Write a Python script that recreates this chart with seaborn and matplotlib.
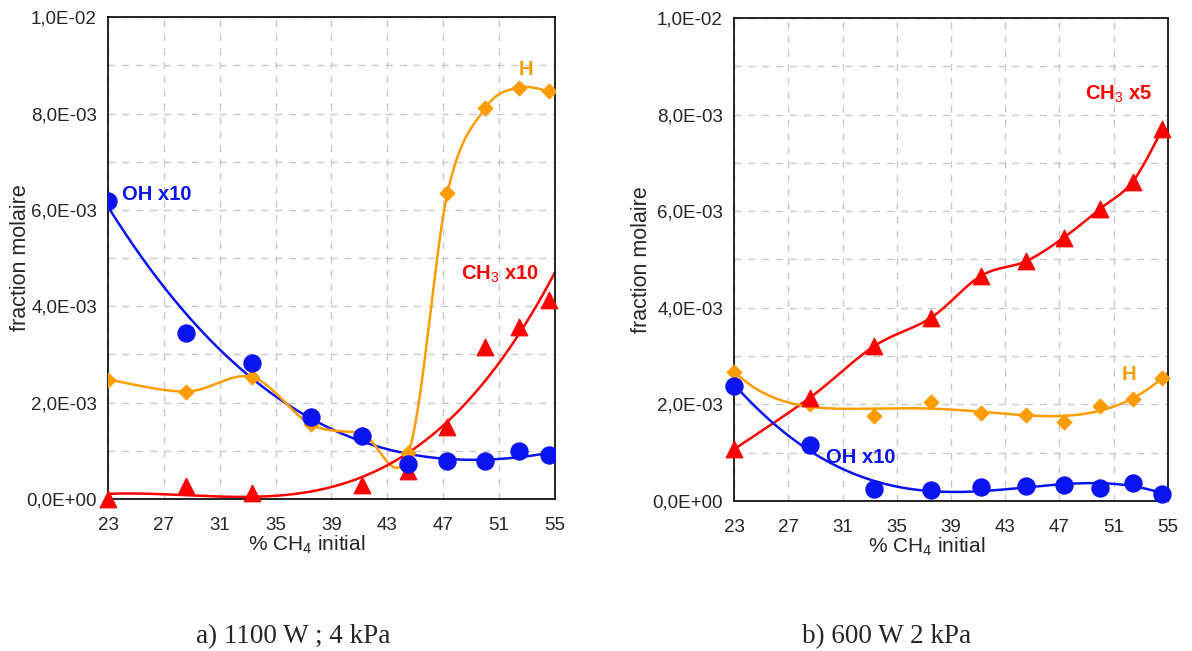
import numpy as np
import pandas as pd
import matplotlib
matplotlib.use("Agg")
import matplotlib.pyplot as plt
import seaborn as sns
from matplotlib.ticker import FixedLocator, FuncFormatter

# % CH4 initial (same compositions in both panels)
ch4 = [23.0, 28.6, 33.3, 37.5, 41.2, 44.5, 47.3, 50.0, 52.4, 54.6]

# a) 1100 W ; 4 kPa  (fraction molaire)
oh_a = [6.18e-3, 3.45e-3, 2.83e-3, 1.70e-3, 1.31e-3, 0.72e-3, 0.79e-3, 0.79e-3, 1.00e-3, 0.92e-3]
h_a = [2.48e-3, 2.23e-3, 2.53e-3, 1.55e-3, 1.35e-3, 0.95e-3, 6.35e-3, 8.11e-3, 8.54e-3, 8.46e-3]
ch4_ch3_a = [23.0, 28.6, 33.3, 41.2, 44.5, 47.3, 50.0, 52.4, 54.6]
ch3_a = [0.0, 0.27e-3, 0.12e-3, 0.30e-3, 0.58e-3, 1.49e-3, 3.16e-3, 3.56e-3, 4.13e-3]

# b) 600 W 2 kPa
oh_b = [2.39e-3, 1.16e-3, 0.24e-3, 0.23e-3, 0.28e-3, 0.32e-3, 0.33e-3, 0.26e-3, 0.38e-3, 0.15e-3]
h_b = [2.67e-3, 2.01e-3, 1.77e-3, 2.05e-3, 1.83e-3, 1.79e-3, 1.64e-3, 1.97e-3, 2.12e-3, 2.54e-3]
ch3_b = [1.07e-3, 2.14e-3, 3.20e-3, 3.79e-3, 4.66e-3, 4.96e-3, 5.45e-3, 6.05e-3, 6.61e-3, 7.70e-3]

BLUE = "#0a14f0"
RED = "#ff0000"
ORANGE = "#ff9c00"


# courbe lissée façon Excel (Catmull-Rom)
def smooth(x, y, n=40):
    p = np.column_stack([x, y]).astype(float)
    p = np.vstack([p[0], p, p[-1]])
    out = []
    for i in range(1, len(p) - 2):
        p0, p1, p2, p3 = p[i - 1], p[i], p[i + 1], p[i + 2]
        c1 = p1 + (p2 - p0) / 6
        c2 = p2 - (p3 - p1) / 6
        t = np.linspace(0, 1, n)[:, None]
        out.append((1 - t) ** 3 * p1 + 3 * (1 - t) ** 2 * t * c1 + 3 * (1 - t) * t ** 2 * c2 + t ** 3 * p2)
    out = np.vstack(out)
    return pd.DataFrame({"x": out[:, 0], "y": out[:, 1]})


# courbe de tendance polynomiale
def trend(x, y, deg, x0, x1):
    c = np.polyfit(x, y, deg)
    xs = np.linspace(x0, x1, 300)
    return pd.DataFrame({"x": xs, "y": np.polyval(c, xs)})


def style_axes(ax, ylab_x):
    ax.set_xlim(23, 55)
    ax.set_ylim(0, 1e-2)
    ax.xaxis.set_major_locator(FixedLocator(np.arange(23, 56, 4)))
    ax.yaxis.set_major_locator(FixedLocator(np.arange(0, 0.0101, 0.002)))
    ax.yaxis.set_minor_locator(FixedLocator(np.arange(0.001, 0.0101, 0.002)))
    ax.yaxis.set_major_formatter(FuncFormatter(lambda v, p: f"{v:.1E}".replace(".", ",")))
    ax.grid(True, which="both", color="#c8c8c8", linestyle=(0, (5, 5)), linewidth=1)
    ax.tick_params(axis="both", which="major", direction="out", length=5, width=1, labelsize=13.5)
    ax.tick_params(axis="x", which="major", pad=8)
    ax.tick_params(axis="y", which="major", pad=3)
    ax.tick_params(axis="y", which="minor", length=0)
    for s in ax.spines.values():
        s.set_visible(True)
        s.set_color("black")
        s.set_linewidth(1.2)
    ax.set_xlabel("% CH$_4$ initial", fontsize=15)
    ax.xaxis.set_label_coords(0.445, -0.072)
    ax.set_ylabel("fraction molaire", fontsize=15.5)
    ax.yaxis.set_label_coords(ylab_x, 0.5)


sns.set_style("white")
plt.rcParams["font.family"] = ["Liberation Sans", "DejaVu Sans"]
plt.rcParams["mathtext.fontset"] = "custom"
plt.rcParams["mathtext.rm"] = "Liberation Sans"
plt.rcParams["mathtext.it"] = "Liberation Sans"
plt.rcParams["mathtext.bf"] = "Liberation Sans:bold"

fig = plt.figure(figsize=(11.92, 6.51), dpi=100)
ax1 = fig.add_axes([0.0906, 0.2335, 0.375, 0.740])
ax2 = fig.add_axes([0.6158, 0.2304, 0.364, 0.742])

# ---- panneau a)
sns.lineplot(data=trend(ch4, oh_a, 3, 23, 54.6), x="x", y="y", color=BLUE, lw=1.8, ax=ax1, sort=False)
sns.lineplot(data=smooth(ch4, h_a), x="x", y="y", color=ORANGE, lw=1.8, ax=ax1, sort=False)
sns.lineplot(data=trend(ch4_ch3_a, ch3_a, 3, 23, 55), x="x", y="y", color=RED, lw=1.8, ax=ax1, sort=False)
sns.scatterplot(x=ch4, y=oh_a, color=BLUE, marker="o", s=150, edgecolor=BLUE, ax=ax1, zorder=5)
sns.scatterplot(x=ch4, y=h_a, color=ORANGE, marker="D", s=60, edgecolor=ORANGE, ax=ax1, zorder=4)
sns.scatterplot(x=ch4_ch3_a, y=ch3_a, color=RED, marker="^", s=140, edgecolor=RED, ax=ax1, zorder=4, clip_on=False)
style_axes(ax1, -0.172)
ax1.text(24.0, 6.2e-3, "OH x10", color=BLUE, fontsize=14.5, fontweight="bold")
ax1.text(52.4, 8.8e-3, "H", color=ORANGE, fontsize=14.5, fontweight="bold")
ax1.text(48.3, 4.55e-3, "CH$_3$ x10", color=RED, fontsize=14.5, fontweight="bold")

# ---- panneau b)
sns.lineplot(data=smooth(ch4, ch3_b), x="x", y="y", color=RED, lw=1.8, ax=ax2, sort=False)
sns.lineplot(data=trend(ch4, h_b, 5, 23, 55), x="x", y="y", color=ORANGE, lw=1.8, ax=ax2, sort=False)
sns.lineplot(data=trend(ch4, oh_b, 4, 23, 54.6), x="x", y="y", color=BLUE, lw=1.8, ax=ax2, sort=False)
sns.scatterplot(x=ch4, y=oh_b, color=BLUE, marker="o", s=150, edgecolor=BLUE, ax=ax2, zorder=5, clip_on=False)
sns.scatterplot(x=ch4, y=h_b, color=ORANGE, marker="D", s=60, edgecolor=ORANGE, ax=ax2, zorder=4, clip_on=False)
sns.scatterplot(x=ch4, y=ch3_b, color=RED, marker="^", s=140, edgecolor=RED, ax=ax2, zorder=4, clip_on=False)
style_axes(ax2, -0.19)
ax2.text(48.85, 8.3e-3, "CH$_3$ x5", color=RED, fontsize=14.5, fontweight="bold")
ax2.text(51.6, 2.5e-3, "H", color=ORANGE, fontsize=14.5, fontweight="bold")
ax2.text(29.8, 0.78e-3, "OH x10", color=BLUE, fontsize=14.5, fontweight="bold")

fig.text(0.246, 0.012, "a) 1100 W ; 4 kPa", fontsize=19.5, family="Liberation Serif", ha="center")
fig.text(0.744, 0.012, "b) 600 W 2 kPa", fontsize=19.5, family="Liberation Serif", ha="center")

fig.savefig("out.png", dpi=100, facecolor="white")
